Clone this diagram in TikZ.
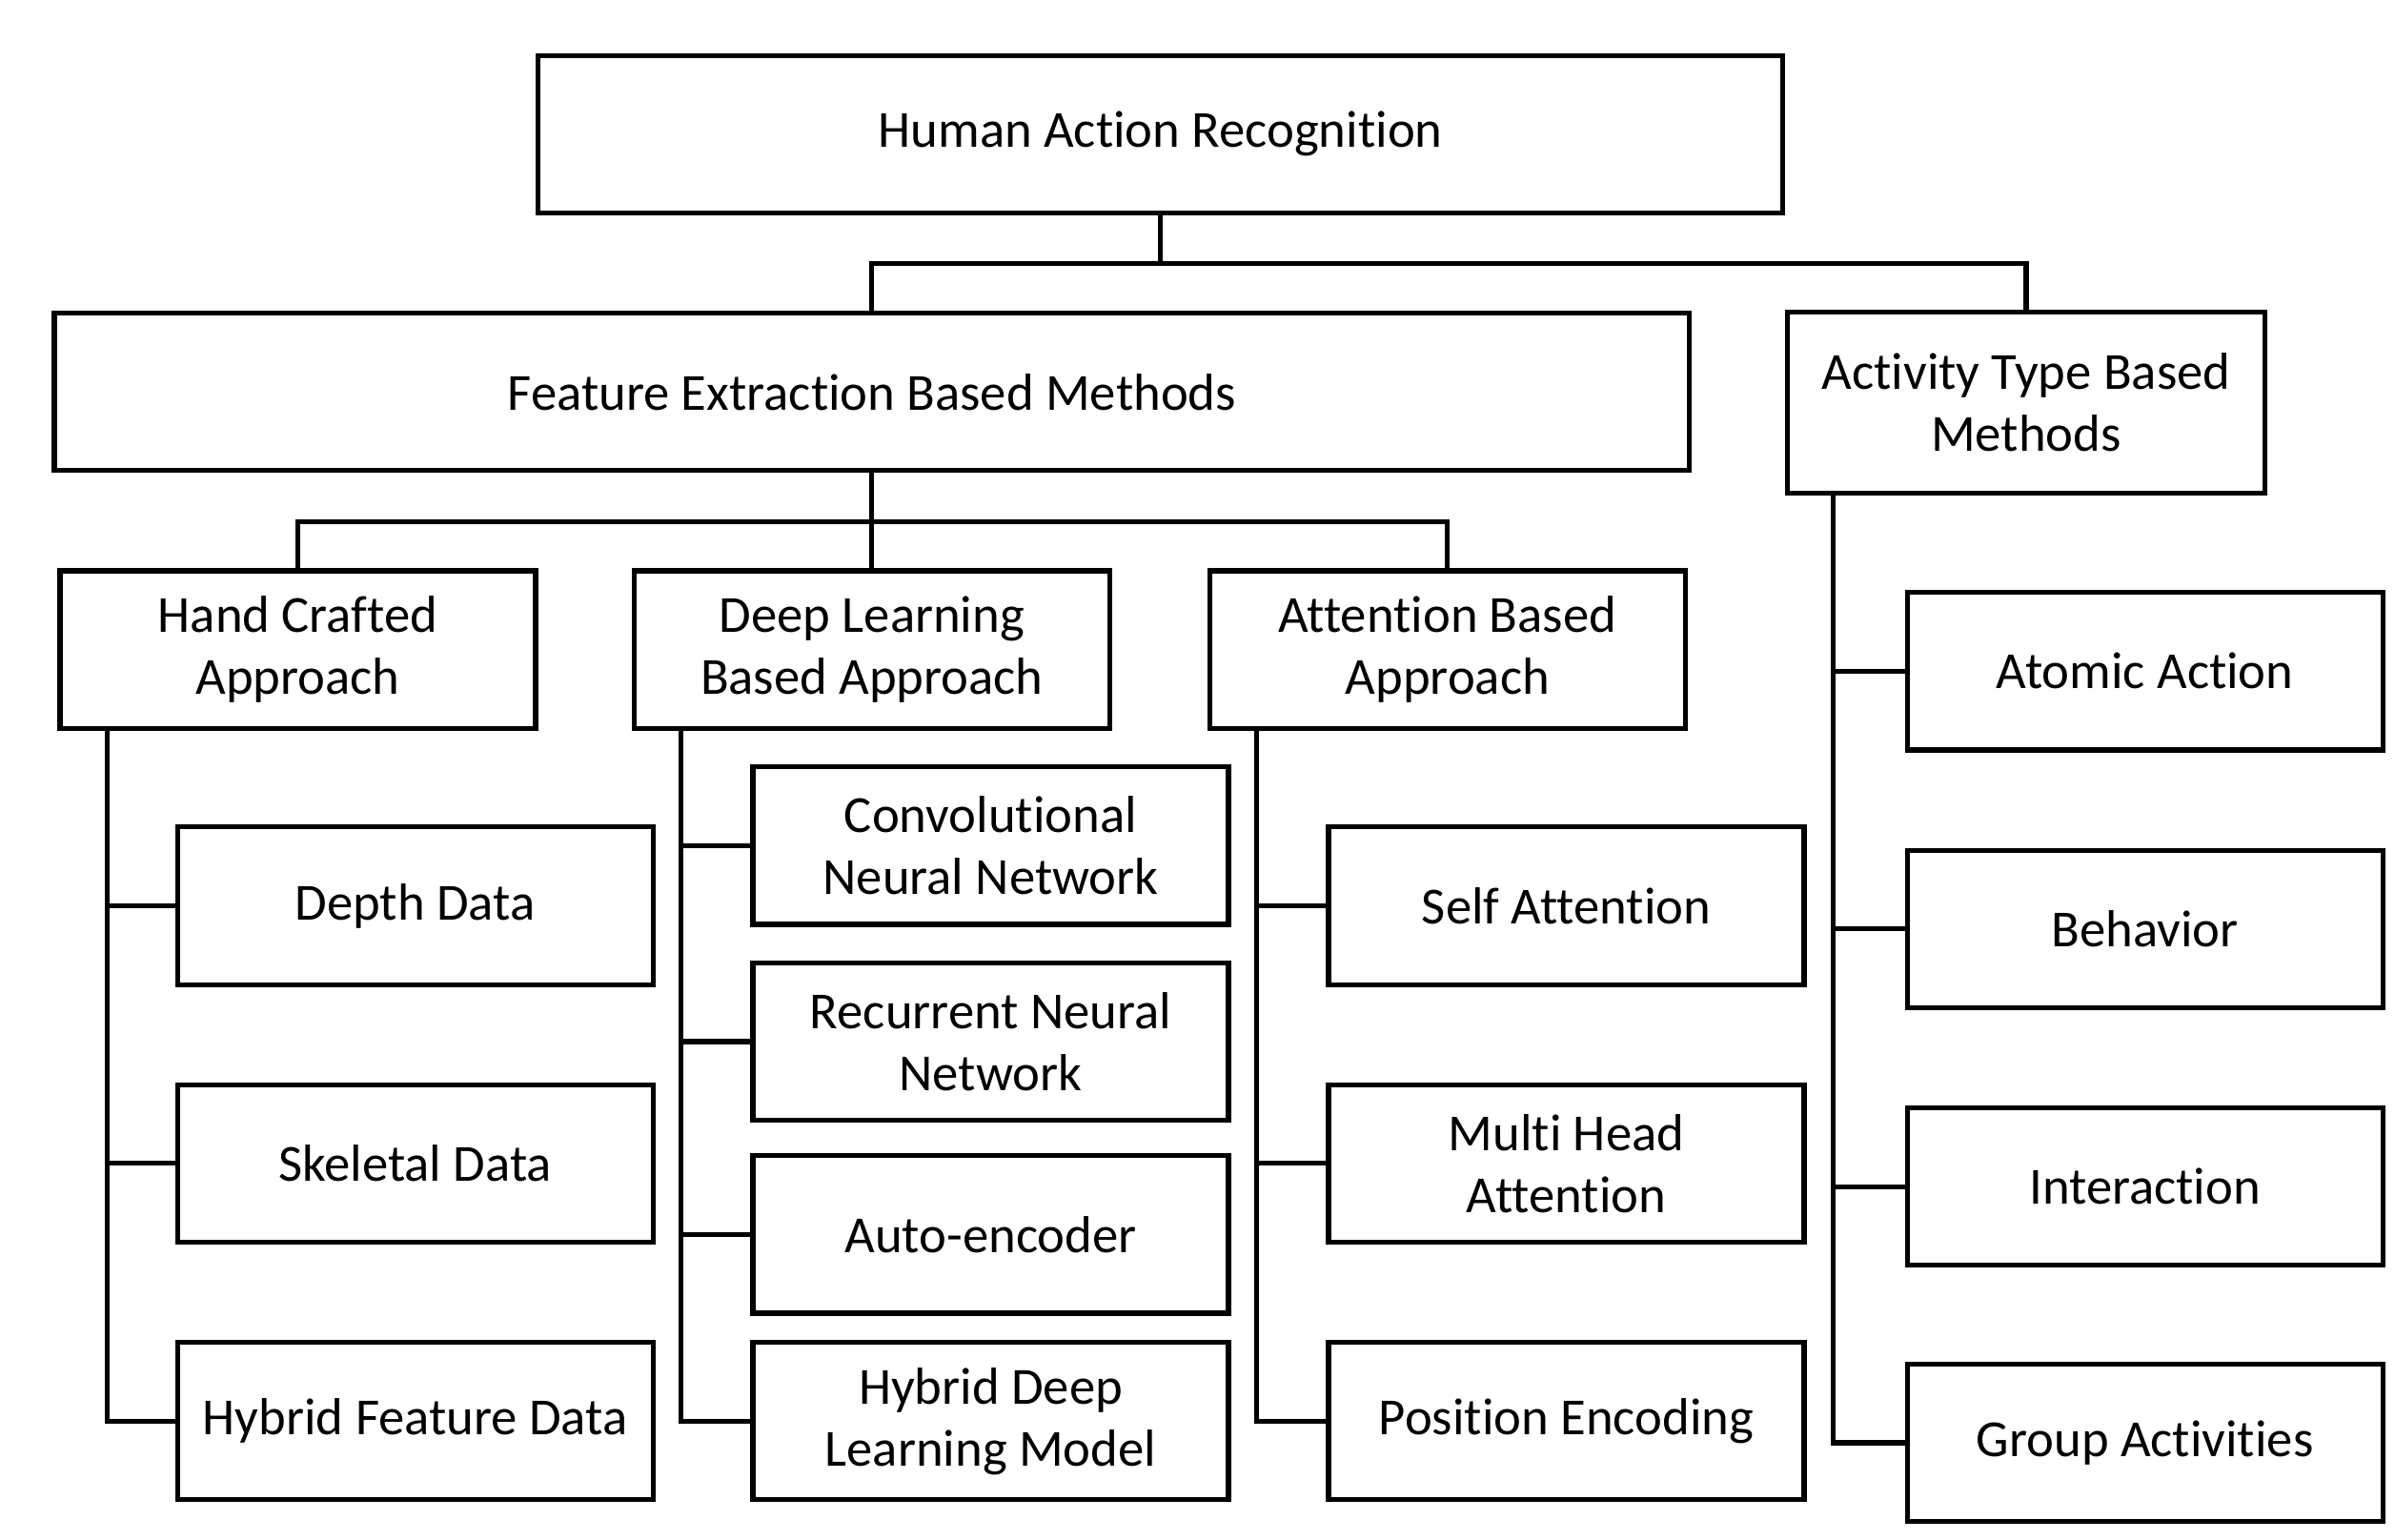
\documentclass[tikz,border=0pt]{standalone}
\usepackage{fontspec}
\setmainfont{Carlito}[RawFeature={-liga;-clig;-dlig;-calt;-rlig}]
\begin{document}
\begin{tikzpicture}[x=0.01cm,y=-0.01cm,line width=0.9pt,
    box/.style={draw,line width=0.9pt,align=center,inner sep=0pt,
        font=\fontsize{9.6}{11.4}\selectfont},
    small/.style={box,minimum width=3.08cm,minimum height=1.02cm}]
    \useasboundingbox (0,0) rectangle (1552,998);

    % top levels
    \node[box,minimum width=8.06cm,minimum height=1.02cm] (har) at (752,87) {Human Action Recognition};
    \node[box,minimum width=10.59cm,minimum height=1.02cm] (fem) at (565,254) {Feature Extraction Based Methods};
    \node[box,minimum width=3.09cm,minimum height=1.17cm] (atm) at (1313,261) {Activity Type Based\\Methods};

    % second level
    \node[small] (hca) at (193,421) {Hand Crafted\\Approach};
    \node[small] (dla) at (565,421) {Deep Learning\\Based Approach};
    \node[small] (aba) at (938,421) {Attention Based\\Approach};

    % leaves
    \node[small] (dd) at (269,587) {Depth Data};
    \node[small] (sd) at (269,754) {Skeletal Data};
    \node[small] (hfd) at (269,921) {Hybrid Feature Data};

    \node[small] (cnn) at (642,548) {Convolutional\\Neural Network};
    \node[small] (rnn) at (642,675) {Recurrent Neural\\Network};
    \node[small] (ae) at (642,800) {Auto-encoder};
    \node[small] (hdl) at (642,921) {Hybrid Deep\\Learning Model};

    \node[small] (sa) at (1015,587) {Self Attention};
    \node[small] (mha) at (1015,754) {Multi Head\\Attention};
    \node[small] (pe) at (1015,921) {Position Encoding};

    \node[small] (aa) at (1390,435) {Atomic Action};
    \node[small] (beh) at (1390,602) {Behavior};
    \node[small] (int) at (1390,769) {Interaction};
    \node[small] (ga) at (1390,935) {Group Activities};

    % tree connectors
    \coordinate (j1) at (752,171);
    \draw (har.south) -- (j1);
    \draw (j1) -| (fem.north);
    \draw (j1) -| (atm.north);
    \coordinate (j2) at (565,338);
    \draw (fem.south) -- (j2);
    \draw (j2) -| (hca.north);
    \draw (j2) -- (dla.north);
    \draw (j2) -| (aba.north);

    % spines
    \draw ([xshift=0.32cm]hca.south west) |- (hfd.west);
    \draw (dd.west) -- ++(-45,0);
    \draw (sd.west) -- ++(-45,0);
    \draw ([xshift=0.32cm]dla.south west) |- (hdl.west);
    \foreach \n in {cnn,rnn,ae} \draw (\n.west) -- ++(-45,0);
    \draw ([xshift=0.32cm]aba.south west) |- (pe.west);
    \draw (sa.west) -- ++(-45,0);
    \draw (mha.west) -- ++(-45,0);
    \draw ([xshift=0.31cm]atm.south west) |- (ga.west);
    \foreach \n in {aa,beh,int} \draw (\n.west) -- ++(-46,0);
\end{tikzpicture}
\end{document}
